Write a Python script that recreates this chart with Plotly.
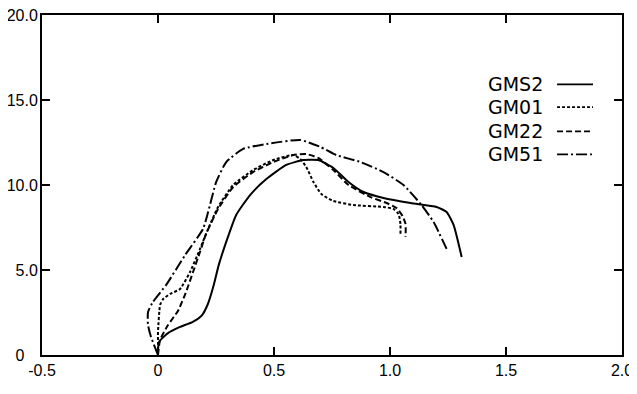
import plotly.graph_objects as go

# ---- data ----
series_names = ["GMS2", "GM01", "GM22", "GM51"]

gms2_x = [0, 0.004, 0.043, 0.095, 0.150, 0.190, 0.215, 0.240, 0.262, 0.294, 0.337, 0.397, 0.467, 0.553, 0.626, 0.691, 0.756, 0.821, 0.886, 0.972, 1.089, 1.201, 1.244, 1.274, 1.309]
gms2_y = [0.0, 0.76, 1.29, 1.65, 1.95, 2.35, 3.0, 4.1, 5.3, 6.65, 8.24, 9.41, 10.35, 11.18, 11.47, 11.47, 11.0, 10.18, 9.59, 9.24, 8.94, 8.71, 8.41, 7.65, 5.76]

gm01_x = [0, 0.0, 0.0, 0.009, 0.022, 0.052, 0.095, 0.138, 0.181, 0.216, 0.259, 0.324, 0.410, 0.497, 0.583, 0.613, 0.639, 0.670, 0.704, 0.756, 0.842, 0.972, 1.015, 1.037, 1.045, 1.045]
gm01_y = [0.0, 0.76, 1.35, 2.94, 3.29, 3.59, 3.88, 4.88, 6.24, 7.41, 8.71, 10.0, 10.88, 11.47, 11.76, 11.53, 11.06, 10.18, 9.47, 9.06, 8.82, 8.71, 8.59, 8.29, 7.71, 7.06]

gm22_x = [0, 0.009, 0.043, 0.086, 0.121, 0.151, 0.181, 0.207, 0.259, 0.324, 0.410, 0.497, 0.583, 0.639, 0.691, 0.756, 0.821, 0.916, 0.985, 1.028, 1.054, 1.067, 1.067]
gm22_y = [0.0, 0.88, 1.76, 2.59, 3.71, 4.88, 6.06, 7.12, 8.59, 9.88, 10.76, 11.35, 11.76, 11.82, 11.59, 10.88, 10.0, 9.29, 8.94, 8.65, 8.18, 7.71, 6.94]

gm51_x = [0, -0.030, -0.043, -0.043, -0.022, 0.035, 0.117, 0.194, 0.216, 0.251, 0.294, 0.367, 0.467, 0.613, 0.700, 0.769, 0.873, 0.972, 1.058, 1.136, 1.188, 1.244]
gm51_y = [0.0, 1.06, 1.76, 2.53, 3.12, 4.12, 5.88, 7.41, 8.41, 10.18, 11.35, 12.12, 12.41, 12.65, 12.24, 11.76, 11.35, 10.76, 10.0, 8.82, 7.82, 6.24]

x_tick_vals = [-0.5, 0, 0.5, 1.0, 1.5, 2.0]
x_tick_text = ["-0.5", "0", "0.5", "1.0", "1.5", "2.0"]
y_tick_vals = [0, 5, 10, 15, 20]
y_tick_text = ["0\u00a0\u00a0\u00a0", "5.0", "10.0", "15.0", "20.0"]

xs = [gms2_x, gm01_x, gm22_x, gm51_x]
ys = [gms2_y, gm01_y, gm22_y, gm51_y]
dashes = ["solid", "3px,2px", "6px,3px", "11px,3px,2px,3px"]

fig = go.Figure()
for name, x, y, d in zip(series_names, xs, ys, dashes):
    fig.add_trace(go.Scatter(x=x, y=y, mode="lines", name=name, showlegend=False,
                             line=dict(color="black", width=2, dash=d, shape="spline", smoothing=0.5)))

# legend: text with line sample to its right
leg_y = [0.796, 0.729, 0.658, 0.590]
for name, ly, d in zip(series_names, leg_y, dashes):
    fig.add_annotation(xref="paper", yref="paper", x=0.867, y=ly, text=name, showarrow=False,
                       xanchor="right", yanchor="middle",
                       font=dict(family="DejaVu Sans", size=19, color="black"))
    fig.add_shape(type="line", xref="paper", yref="paper", x0=0.888, x1=0.950, y0=ly, y1=ly,
                  line=dict(color="black", width=1.8, dash=d))

axis_common = dict(showgrid=False, zeroline=False, showline=True, linecolor="black", linewidth=2,
                   mirror="ticks", ticks="inside", ticklen=8, tickwidth=2, tickcolor="black",
                   automargin=False, ticklabeloverflow="allow",
                   tickfont=dict(family="Liberation Sans", size=16, color="black"))

fig.update_xaxes(range=[-0.5, 2.0], tickvals=x_tick_vals, ticktext=x_tick_text, **axis_common)
fig.update_yaxes(range=[0, 20], tickvals=y_tick_vals, ticktext=y_tick_text, **axis_common)

# the page body adds an 8px margin, so the figure is sized to fill the rest of the window
fig.update_layout(width=629, height=386, margin=dict(l=34, r=15, t=7, b=39),
                  plot_bgcolor="white", paper_bgcolor="white")
fig.update_xaxes(ticklabelstandoff=0)
fig.update_yaxes(ticklabelstandoff=-1)

fig.write_html("out.html")
